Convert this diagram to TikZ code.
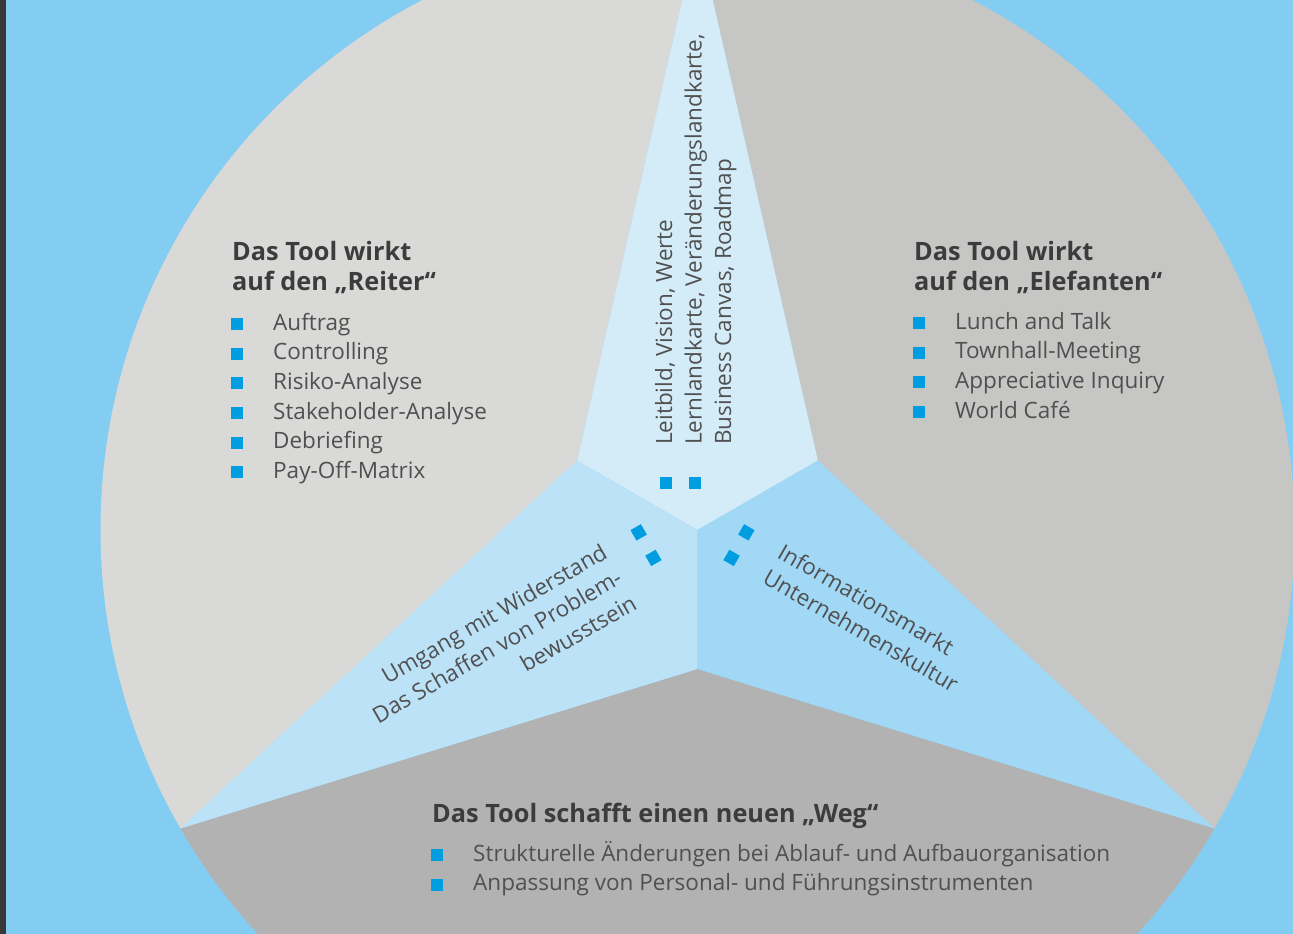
\documentclass[tikz,border=0pt]{standalone}
\usepackage{fontspec}
\setmainfont{Open Sans}
\usepackage{xcolor}
\usepackage{tikz}
\usetikzlibrary{positioning,calc}
\tikzset{
  head/.style ={font=\bfseries\fontsize{25.3}{30}\selectfont, text=headgray,
                inner sep=0pt, anchor=base west},
  itm/.style  ={font=\fontsize{22.5}{29}\selectfont, text=itemgray,
                inner sep=0pt, text height=17pt, text depth=5pt,
                anchor=base west},
  lobe/.style ={font=\fontsize{22.5}{29}\selectfont, text=itemgray,
                inner sep=0pt},
  bul/.style  ={fill=bulblue, inner sep=0pt, minimum size=12pt,
                anchor=south west},
  lbul/.style ={bul, anchor=center},
}
\definecolor{bgblue}   {RGB}{131,205,243}
\definecolor{strip}    {RGB}{56,56,56}
\definecolor{lgray}    {RGB}{217,217,216}
\definecolor{mgray}    {RGB}{198,198,197}
\definecolor{dgray}    {RGB}{178,178,178}
\definecolor{topblue}  {RGB}{212,235,248}
\definecolor{leftblue} {RGB}{188,226,247}
\definecolor{rightblue}{RGB}{161,216,245}
\definecolor{bulblue}  {RGB}{0,158,224}
\definecolor{headgray} {RGB}{60,60,60}
\definecolor{itemgray} {RGB}{80,80,80}

\begin{document}
\begin{tikzpicture}[x=1pt,y=1pt]
  \useasboundingbox (0,0) rectangle (1293,-934);
  \fill[bgblue] (0,0) rectangle (1293,-934);
  \fill[strip] (0,0) rectangle (6,-934);
  % circle and the three-pointed star
  \coordinate (C) at (697.5,-530);
  \coordinate (T)    at ($(C)+(90:597)$);
  \coordinate (A210) at ($(C)+(210:597)$);
  \coordinate (A330) at ($(C)+(330:597)$);
  \coordinate (V30)  at ($(C)+(30:139)$);
  \coordinate (V150) at ($(C)+(150:139)$);
  \coordinate (V270) at ($(C)+(270:139)$);
  \fill[lgray] (A210) -- (V150) -- (T) arc[start angle=90, end angle=210, radius=597] -- cycle;
  \fill[mgray] (T) -- (V30) -- (A330) arc[start angle=-30, end angle=90, radius=597] -- cycle;
  \fill[dgray] (A330) -- (V270) -- (A210) arc[start angle=210, end angle=330, radius=597] -- cycle;
  \fill[topblue]   (T) -- (V150) -- (C) -- (V30) -- cycle;
  \fill[leftblue]  (V150) -- (A210) -- (V270) -- (C) -- cycle;
  \fill[rightblue] (V30) -- (C) -- (V270) -- (A330) -- cycle;

  % Reiter
  \node[head] (rh1) at (232,-260) {Das Tool wirkt};
  \node[head] (rh2) at (232,-290) {auf den „Reiter“};
  \node[itm] (r1) at (273,-330) {Auftrag};
  \node[itm, below=7.3pt of r1.south west, anchor=north west] (r2) {Controlling};
  \node[itm, below=7.3pt of r2.south west, anchor=north west] (r3) {Risiko-Analyse};
  \node[itm, below=7.3pt of r3.south west, anchor=north west] (r4) {Stakeholder-Analyse};
  \node[itm, below=7.3pt of r4.south west, anchor=north west] (r5) {Debriefing};
  \node[itm, below=7.3pt of r5.south west, anchor=north west] (r6) {Pay-Off-Matrix};
  \node[bul] (rb1) at ([xshift=-42pt]r1.base west) {};
  \node[bul] (rb2) at ([xshift=-42pt]r2.base west) {};
  \node[bul] (rb3) at ([xshift=-42pt]r3.base west) {};
  \node[bul] (rb4) at ([xshift=-42pt]r4.base west) {};
  \node[bul] (rb5) at ([xshift=-42pt]r5.base west) {};
  \node[bul] (rb6) at ([xshift=-42pt]r6.base west) {};

  % Elefant
  \node[head] (eh1) at (914,-260) {Das Tool wirkt};
  \node[head] (eh2) at (914,-290) {auf den „Elefanten“};
  \node[itm] (e1) at (955,-329) {Lunch and Talk};
  \node[itm, below=7.3pt of e1.south west, anchor=north west] (e2) {Townhall-Meeting};
  \node[itm, below=7.3pt of e2.south west, anchor=north west] (e3) {Appreciative Inquiry};
  \node[itm, below=7.3pt of e3.south west, anchor=north west] (e4) {World Café};
  \node[bul] (eb1) at ([xshift=-42pt]e1.base west) {};
  \node[bul] (eb2) at ([xshift=-42pt]e2.base west) {};
  \node[bul] (eb3) at ([xshift=-42pt]e3.base west) {};
  \node[bul] (eb4) at ([xshift=-42pt]e4.base west) {};

  % Weg
  \node[head] (wh) at (432,-822) {Das Tool schafft einen neuen „Weg“};
  \node[itm] (w1) at (473,-861) {Strukturelle Änderungen bei Ablauf- und Aufbauorganisation};
  \node[itm, below=7.3pt of w1.south west, anchor=north west] (w2) {Anpassung von Personal- und Führungsinstrumenten};
  \node[bul] (wb1) at ([xshift=-42pt]w1.base west) {};
  \node[bul] (wb2) at ([xshift=-42pt]w2.base west) {};

  % texts in the star
  \begin{scope}[shift={(672,-445)}, rotate=90, transform shape]
    \node[lobe, anchor=base west] (t1) at (0,0)     {Leitbild, Vision, Werte};
    \node[lobe, anchor=base west] (t2) at (0,-29.5) {Lernlandkarte, Veränderungslandkarte,};
    \node[lobe, anchor=base west] (t3) at (0,-59)   {Business Canvas, Roadmap};
    \node[lbul] (tb1) at (-38,6.5) {};
    \node[lbul] (tb2) at (-38,-23) {};
  \end{scope}
  \begin{scope}[shift={(609,-557)}, rotate=30, transform shape]
    \node[lobe, anchor=base east] (l1) at (0,0)     {Umgang mit Widerstand};
    \node[lobe, anchor=base east] (l2) at (0,-29.5) {Das Schaffen von Problem-};
    \node[lobe, anchor=base east] (l3) at (0,-59)   {bewusstsein};
    \node[lbul] (lb1) at (38,6.5) {};
    \node[lbul] (lb2) at (38,-23) {};
  \end{scope}
  \begin{scope}[shift={(776,-557)}, rotate=-30, transform shape]
    \node[lobe, anchor=base west] (m1) at (0,0)     {Informationsmarkt};
    \node[lobe, anchor=base west] (m2) at (0,-29.5) {Unternehmenskultur};
    \node[lbul] (mb1) at (-38,6.5) {};
    \node[lbul] (mb2) at (-38,-23) {};
  \end{scope}
\end{tikzpicture}
\end{document}
